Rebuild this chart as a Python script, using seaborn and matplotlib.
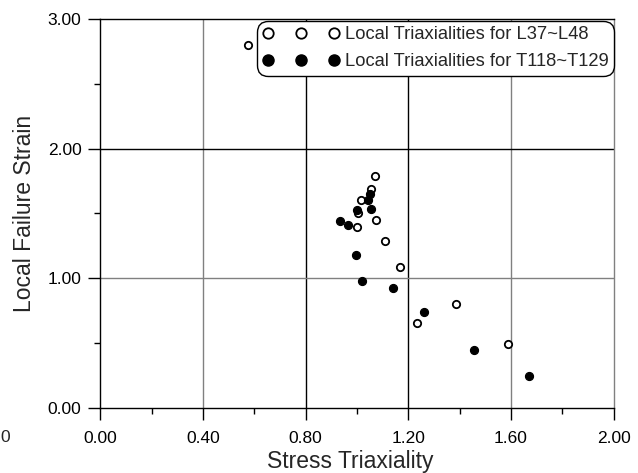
import numpy as np
import pandas as pd
import matplotlib
matplotlib.use("Agg")
import matplotlib.pyplot as plt
import seaborn as sns
from matplotlib.lines import Line2D

# data
l_triax = [0.574, 1.072, 1.055, 1.017, 1.005, 1.000, 1.075, 1.108, 1.168, 1.384, 1.234, 1.588]
l_strain = [2.797, 1.787, 1.691, 1.607, 1.506, 1.393, 1.450, 1.290, 1.090, 0.802, 0.655, 0.490]

t_triax = [1.052, 1.043, 0.999, 1.055, 0.934, 0.966, 0.996, 1.020, 1.139, 1.260, 1.454, 1.669]
t_strain = [1.650, 1.604, 1.527, 1.532, 1.440, 1.410, 1.182, 0.982, 0.923, 0.738, 0.450, 0.248]

lab_l = "Local Triaxialities for L37~L48"
lab_t = "Local Triaxialities for T118~T129"

df = pd.concat([
    pd.DataFrame({"x": l_triax, "y": l_strain, "set": lab_l}),
    pd.DataFrame({"x": t_triax, "y": t_strain, "set": lab_t}),
], ignore_index=True)

sns.set_style("white")
plt.rcParams["font.family"] = ["Liberation Sans", "DejaVu Sans"]

fig = plt.figure(figsize=(6.38, 4.73), dpi=100)
ax = fig.add_axes([0.157, 0.1374, 0.805, 0.8225])

# grid first so the points sit on top
for xv, c in zip([0.4, 0.8, 1.2, 1.6], ["0.5", "black", "black", "0.5"]):
    ax.axvline(xv, color=c, lw=1.0, zorder=1)
for yv, c in zip([1.0, 2.0], ["0.5", "black"]):
    ax.axhline(yv, color=c, lw=1.0, zorder=1)

sns.scatterplot(data=df[df["set"] == lab_l], x="x", y="y", ax=ax,
                marker="o", s=28, facecolor="white", edgecolor="black",
                linewidth=1.3, zorder=3, legend=False)
sns.scatterplot(data=df[df["set"] == lab_t], x="x", y="y", ax=ax,
                marker="o", s=34, color="black", edgecolor="black",
                linewidth=0.8, zorder=3, legend=False)

ax.set_xlim(0, 2.0)
ax.set_ylim(0, 3.0)
ax.set_xticks(np.arange(0, 2.01, 0.4))
ax.set_xticks(np.arange(0, 2.01, 0.2), minor=True)
ax.set_yticks([0, 1, 2, 3])
ax.set_yticks([0.5, 1.5, 2.5], minor=True)
ax.set_xticklabels([f"{v:.2f}" for v in np.arange(0, 2.01, 0.4)])
ax.set_yticklabels([f"{v:.2f}" for v in [0, 1, 2, 3]])

ax.tick_params(axis="both", which="both", bottom=True, left=True,
               top=False, right=False)
ax.tick_params(axis="both", which="major", direction="out", length=8.5,
               width=1.0, color="black", labelsize=12.5, labelcolor="black")
ax.tick_params(axis="both", which="minor", direction="out", length=4.5,
               width=1.0, color="black")
ax.tick_params(axis="x", which="major", pad=8)
ax.tick_params(axis="y", which="major", pad=5)

for side in ["left", "bottom", "top"]:
    ax.spines[side].set_color("black")
    ax.spines[side].set_linewidth(1.0)
ax.spines["right"].set_color("0.5")
ax.spines["right"].set_linewidth(1.0)

ax.set_xlabel("Stress Triaxiality", fontsize=16.5, labelpad=3)
ax.xaxis.label.set_x(0.486)
ax.set_ylabel("Local Failure Strain", fontsize=16.5, labelpad=8)

h1 = Line2D([], [], ls="none", marker="o", markersize=7.5, markerfacecolor="white",
            markeredgecolor="black", markeredgewidth=1.3)
h2 = Line2D([], [], ls="none", marker="o", markersize=8, markerfacecolor="black",
            markeredgecolor="black")
leg = ax.legend([h1, h2], [lab_l, lab_t], loc="upper right", numpoints=3,
                fontsize=13.2, frameon=True, fancybox=True, framealpha=1,
                edgecolor="black", handlelength=4.2, handletextpad=0.3,
                borderpad=0.3, labelspacing=0.55, borderaxespad=0.0,
                bbox_to_anchor=(1.0, 0.995))
leg.get_frame().set_linewidth(1.0)
leg.get_frame().set_boxstyle("round", pad=0, rounding_size=0.6)
leg.set_zorder(5)

# clipped label at far left edge of the picture
fig.text(0.0, 0.074, "0", fontsize=12.5, ha="left", va="center")

fig.savefig("out.png", dpi=100)
